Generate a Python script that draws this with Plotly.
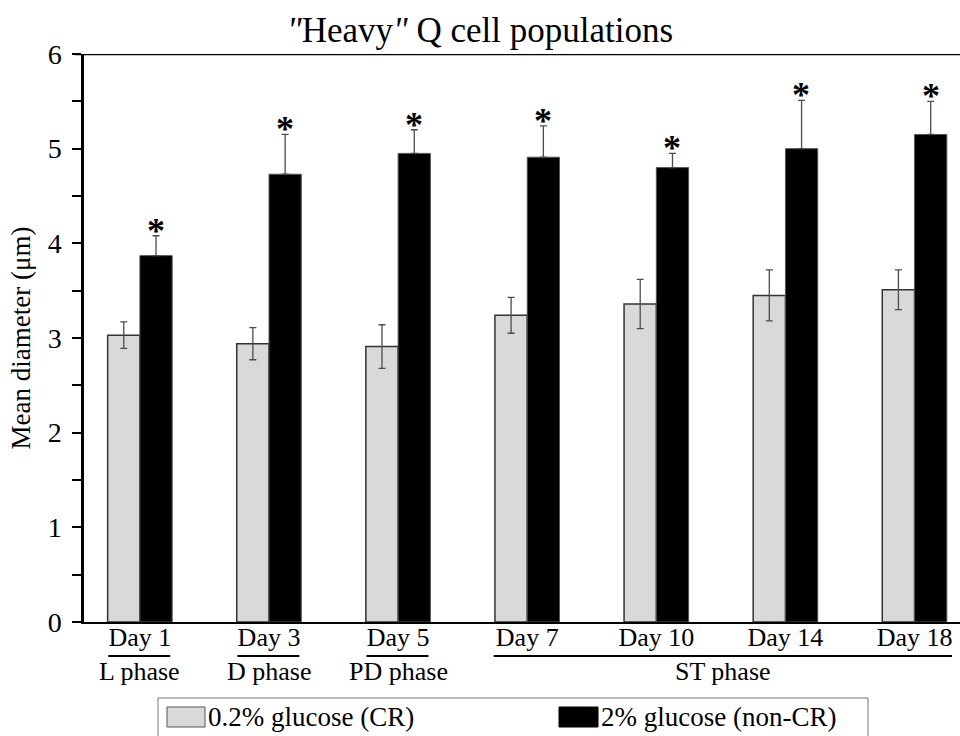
import plotly.graph_objects as go

# Sampling days and growth phases
days = ["Day 1", "Day 3", "Day 5", "Day 7", "Day 10", "Day 14", "Day 18"]
phases_single = {"Day 1": "L phase", "Day 3": "D phase", "Day 5": "PD phase"}
st_phase = "ST phase"

# Mean diameter (µm) and error (SD) of "heavy" quiescent cells
cr_mean = [3.03, 2.94, 2.91, 3.24, 3.36, 3.45, 3.51]
cr_err = [0.14, 0.17, 0.23, 0.19, 0.26, 0.27, 0.21]
noncr_mean = [3.87, 4.73, 4.95, 4.91, 4.80, 5.00, 5.15]
noncr_err = [0.21, 0.42, 0.25, 0.33, 0.15, 0.51, 0.35]
significant = [True, True, True, True, True, True, True]

cr_name = "0.2% glucose (CR)"
noncr_name = "2% glucose (non-CR)"
title_text = '<i>"</i>Heavy<i>"</i> Q cell populations'

FONT = "Liberation Serif"
CR_FILL = "#d9d9d9"
ERR_COLOR = "#4d4d4d"

fig = go.Figure()
fig.add_trace(go.Bar(
    x=days, y=cr_mean, name=cr_name,
    marker=dict(color=CR_FILL, line=dict(color="#333333", width=1.5)),
    error_y=dict(type="data", array=cr_err, visible=True,
                 color=ERR_COLOR, thickness=1.3, width=3.5),
    showlegend=False,
))
fig.add_trace(go.Bar(
    x=days, y=noncr_mean, name=noncr_name,
    marker=dict(color="black", line=dict(color="#555555", width=1)),
    error_y=dict(type="data", symmetric=False, array=noncr_err,
                 arrayminus=[0] * len(noncr_err), visible=True,
                 color=ERR_COLOR, thickness=1.3, width=3.5),
    showlegend=False,
))

shapes = []
annotations = []

# Significance marks above the non-CR error bars
for d, m, e, s in zip(days, noncr_mean, noncr_err, significant):
    if s:
        annotations.append(dict(
            x=d, y=m + e, xref="x", yref="y", text="<b>*</b>",
            showarrow=False, xshift=16, yanchor="bottom", yshift=-17,
            font=dict(family=FONT, size=36, color="black"),
        ))

# Frame line at the top of the value axis
shapes.append(dict(type="line", xref="paper", yref="y", x0=-0.0103, x1=1,
                   y0=6, y1=6, line=dict(color="black", width=2.5)))

PW, PH = 876.0, 568.0
def px_x(px):
    return (px - 84) / PW
def px_y(py):
    return (622 - py) / PH

# Phase labels with rules under the day labels
LINE_Y = px_y(656)
PHASE_Y = px_y(655)
for d, ph in phases_single.items():
    i = days.index(d)
    shapes.append(dict(type="line", xref="x", yref="paper",
                       x0=i - 0.245, x1=i + 0.235, y0=LINE_Y, y1=LINE_Y,
                       line=dict(color="black", width=2)))
    annotations.append(dict(x=i, y=PHASE_Y, xref="x", yref="paper", text=ph,
                            showarrow=False, yanchor="top",
                            font=dict(family=FONT, size=26, color="black")))
i7, i18 = days.index("Day 7"), days.index("Day 18")
shapes.append(dict(type="line", xref="x", yref="paper",
                   x0=i7 - 0.26, x1=i18 + 0.29, y0=LINE_Y, y1=LINE_Y,
                   line=dict(color="black", width=2)))
annotations.append(dict(x=(i7 - 0.26 + i18 + 0.29) / 2, y=PHASE_Y, xref="x",
                        yref="paper", text=st_phase, showarrow=False,
                        yanchor="top",
                        font=dict(family=FONT, size=26, color="black")))

# Legend box with swatches
shapes.append(dict(type="rect", xref="paper", yref="paper",
                   x0=px_x(158), x1=px_x(868), y0=px_y(698), y1=px_y(745),
                   line=dict(color="#777777", width=1), fillcolor="white"))
shapes.append(dict(type="rect", xref="paper", yref="paper",
                   x0=px_x(167), x1=px_x(205), y0=px_y(707), y1=px_y(727),
                   line=dict(color="#555555", width=1), fillcolor=CR_FILL))
shapes.append(dict(type="rect", xref="paper", yref="paper",
                   x0=px_x(559), x1=px_x(598), y0=px_y(707), y1=px_y(727),
                   line=dict(color="black", width=1), fillcolor="black"))
annotations.append(dict(x=px_x(206), y=px_y(700), xref="paper", yref="paper",
                        text=cr_name, showarrow=False, xanchor="left",
                        yanchor="top",
                        font=dict(family=FONT, size=27, color="black")))
annotations.append(dict(x=px_x(599), y=px_y(700), xref="paper", yref="paper",
                        text=noncr_name, showarrow=False, xanchor="left",
                        yanchor="top",
                        font=dict(family=FONT, size=27, color="black")))

tick_vals = [v / 2 for v in range(0, 13)]
tick_text = [str(int(v)) if v == int(v) else "" for v in tick_vals]

fig.update_layout(
    width=960, height=736,
    margin=dict(l=84, r=0, t=54, b=114),
    paper_bgcolor="white", plot_bgcolor="white",
    barmode="group", bargap=0.5, bargroupgap=0,
    title=dict(text=title_text, x=0.5, xanchor="center",
               y=0.959, yanchor="middle",
               font=dict(family=FONT, size=35, color="black")),
    font=dict(family=FONT, color="black"),
    xaxis=dict(range=[-0.433, 6.352], showline=True, linecolor="black",
               linewidth=2, ticks="", showgrid=False, ticklabelstandoff=-9,
               tickfont=dict(family=FONT, size=26, color="black")),
    yaxis=dict(range=[0, 6], showline=True, linecolor="black", linewidth=2.5,
               ticks="outside", ticklen=9, tickwidth=2, tickcolor="black",
               tickvals=tick_vals, ticktext=tick_text, showgrid=False,
               zeroline=False, ticklabelstandoff=5,
               tickfont=dict(family=FONT, size=28, color="black"),
               title=dict(text="Mean diameter (μm)", standoff=10,
                          font=dict(family=FONT, size=27, color="black"))),
    shapes=shapes,
    annotations=annotations,
)

fig.write_html("out.html")
